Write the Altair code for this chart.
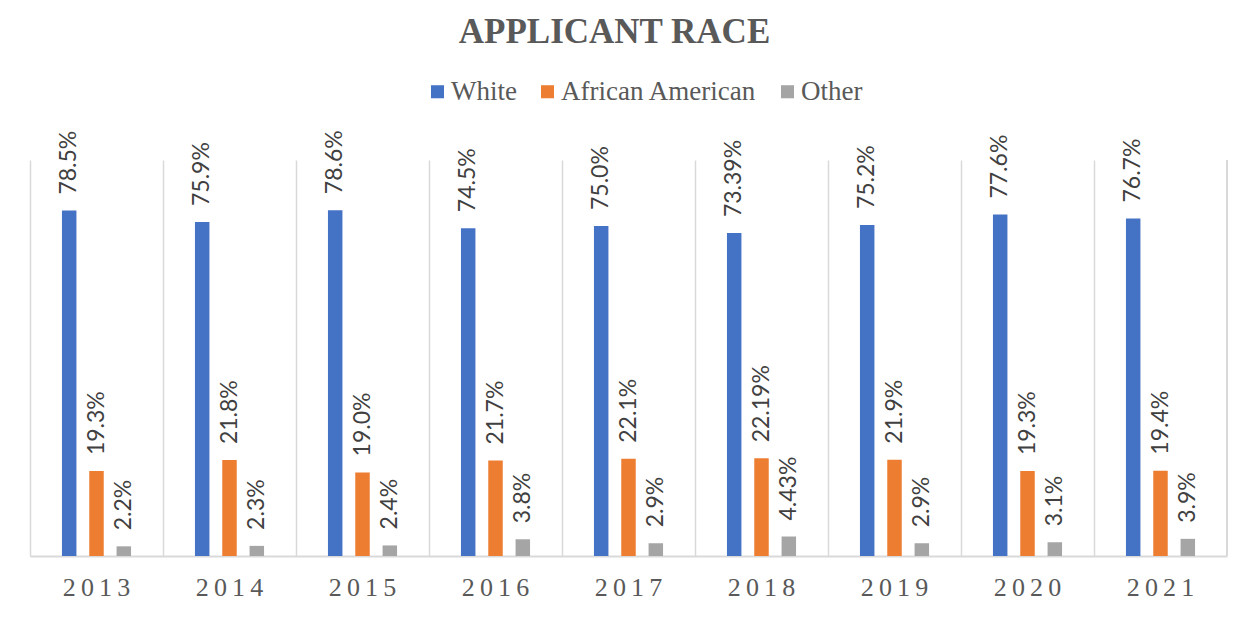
import altair as alt
import pandas as pd

years = ["2013", "2014", "2015", "2016", "2017", "2018", "2019", "2020", "2021"]
races = ["White", "African American", "Other"]
white = [78.5, 75.9, 78.6, 74.5, 75.0, 73.39, 75.2, 77.6, 76.7]
african_american = [19.3, 21.8, 19.0, 21.7, 22.1, 22.19, 21.9, 19.3, 19.4]
other = [2.2, 2.3, 2.4, 3.8, 2.9, 4.43, 2.9, 3.1, 3.9]
white_labels = ["78.5%", "75.9%", "78.6%", "74.5%", "75.0%", "73.39%", "75.2%", "77.6%", "76.7%"]
aa_labels = ["19.3%", "21.8%", "19.0%", "21.7%", "22.1%", "22.19%", "21.9%", "19.3%", "19.4%"]
other_labels = ["2.2%", "2.3%", "2.4%", "3.8%", "2.9%", "4.43%", "2.9%", "3.1%", "3.9%"]
colors = ["#4472C4", "#ED7D31", "#A5A5A5"]

rows = []
for series, vals, labs in zip(races, [white, african_american, other],
                              [white_labels, aa_labels, other_labels]):
    for y, v, l in zip(years, vals, labs):
        rows.append({"year": y, "race": series, "value": v, "label": l})
df = pd.DataFrame(rows)

W, H = 1197, 396

x_enc = alt.X("year:N", sort=years, title=None,
              scale=alt.Scale(paddingInner=0, paddingOuter=0),
              axis=alt.Axis(bandPosition=0, grid=True, gridColor="#D9D9D9", gridWidth=1.5,
                            ticks=False, domainColor="#D9D9D9", domainWidth=2,
                            labelFont="Liberation Serif", labelFontSize=26,
                            labelColor="#595959", labelPadding=18, labelAngle=0,
                            labelExpr="join(split(datum.label, ''), '\u2009')"))
# two empty slots frame the three bars inside each year band
xo_enc = alt.XOffset("race:N",
                     scale=alt.Scale(domain=["_l"] + races + ["_r"],
                                     paddingInner=0.47, paddingOuter=0.17))
y_enc = alt.Y("value:Q", scale=alt.Scale(domain=[0, 90]), axis=None)

bars = alt.Chart(df).mark_bar().encode(
    x=x_enc, xOffset=xo_enc, y=y_enc,
    color=alt.Color("race:N", sort=races,
                    scale=alt.Scale(domain=races, range=colors),
                    legend=alt.Legend(title=None, orient="none", direction="horizontal",
                                      legendX=394, legendY=-82,
                                      symbolType="square", symbolSize=170,
                                      symbolStrokeWidth=0,
                                      labelFont="Liberation Serif", labelFontSize=27,
                                      labelColor="#595959", columnPadding=17,
                                      labelOffset=0, labelLimit=400)),
)

labels = alt.Chart(df).mark_text(
    angle=270, align="left", baseline="middle", dx=16,
    font="Lato", fontSize=23, color="#404040"
).encode(x=x_enc, xOffset=xo_enc, y=y_enc, text="label:N")

right_rule = alt.Chart(df).mark_rule(color="#D9D9D9", strokeWidth=1.5).encode(
    x=alt.value(W), y=alt.value(0), y2=alt.value(H)
)

chart = alt.layer(bars, labels, right_rule).properties(
    width=W, height=H,
    title=alt.TitleParams("APPLICANT RACE", font="Liberation Serif", fontSize=35,
                          fontWeight="bold", color="#595959", anchor="middle",
                          offset=28, dx=-14),
    autosize=alt.AutoSizeParams(type="none"),
    padding={"left": 22, "top": 152, "right": 22, "bottom": 50},
    background="white",
).configure_view(stroke=None)

chart.save("out.html", embed_options={"renderer": "svg", "actions": False})
